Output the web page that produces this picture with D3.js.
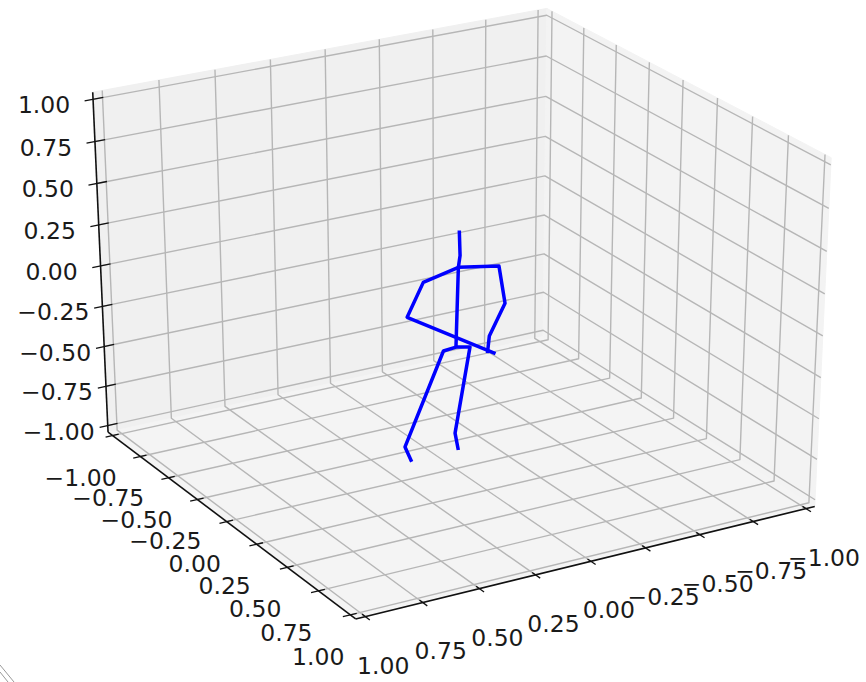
<!DOCTYPE html>
<html><head><meta charset="utf-8">
<script src="https://cdn.jsdelivr.net/npm/d3@7"></script>
<style>
  body { margin: 0; background: #fff; }
  text { font-family: "DejaVu Sans", sans-serif; }
</style>
</head><body><div id="root"></div><script>
const width = 866, height = 682;

// axis ticks (same for x, y, z)
const tickValues = [-1, -0.75, -0.5, -0.25, 0, 0.25, 0.5, 0.75, 1];

// pose joints, 3D (x, y, z)
const jointNames = ["head", "nose", "thorax", "r_shoulder", "r_elbow", "r_wrist", "r_hand",
                    "l_shoulder", "l_elbow", "l_wrist", "pelvis", "l_hip", "l_knee", "l_foot",
                    "r_hip", "r_knee", "r_foot"];
const jointX = [-0.013, -0.016, -0.010, -0.148, -0.169, -0.116, -0.110, 0.109, 0.165, -0.138, -0.002, 0.041, 0.175, 0.152, -0.050, 0.001, -0.010];
const jointY = [0.008, 0.009, 0.006, 0.086, 0.099, 0.068, 0.064, -0.064, -0.096, 0.080, 0.001, -0.024, -0.102, -0.089, 0.029, -0.001, 0.006];
const jointZ = [0.419, 0.269, 0.199, 0.206, -0.017, -0.217, -0.322, 0.108, -0.103, -0.325, -0.285, -0.309, -0.905, -0.998, -0.285, -0.818, -0.924];

// bones drawn as chains of joint indices
const chains = [[0, 1, 2, 10], [2, 3, 4, 5, 6], [2, 7, 8, 9], [10, 11, 12, 13], [10, 14, 15, 16]];

// view settings (matplotlib-like perspective camera)
const view = {elev: 26.9, azim: 59.8, dist: 10.6, zk: 1.2, sx: 4897.8, sy: 3976.5, cx: 455.4, cy: 300.3};
const lim = 1 + 2 / 48; // axis limits incl. margin

function dot(a, b) { return a[0]*b[0] + a[1]*b[1] + a[2]*b[2]; }

const e = view.elev * Math.PI / 180, a = view.azim * Math.PI / 180;
const u = [-Math.sin(a), Math.cos(a), 0];
const w = [Math.cos(e)*Math.cos(a), Math.cos(e)*Math.sin(a), Math.sin(e)];
const v = [w[1]*u[2]-w[2]*u[1], w[2]*u[0]-w[0]*u[2], w[0]*u[1]-w[1]*u[0]];

// world -> screen
function proj(p) {
    const q = [p[0]/(2*lim)*8/7, p[1]/(2*lim)*8/7, p[2]/(2*lim)*6/7*view.zk];
    const d = view.dist - dot(w, q);
    return [view.cx + view.sx*dot(u, q)/d, view.cy - view.sy*dot(v, q)/d];
}

const svg = d3.select("#root").append("svg")
    .attr("width", width)
    .attr("height", height);

const line = d3.line();
const fmt = d3.format(".2f");

// panes
const panes = [
    {c: "#f0f0f0", pts: [[lim,-lim,-lim], [-lim,-lim,-lim], [-lim,-lim,lim], [lim,-lim,lim]]},
    {c: "#f3f3f3", pts: [[-lim,-lim,-lim], [-lim,lim,-lim], [-lim,lim,lim], [-lim,-lim,lim]]},
    {c: "#f4f4f4", pts: [[lim,-lim,-lim], [lim,lim,-lim], [-lim,lim,-lim], [-lim,-lim,-lim]]}
];
svg.selectAll(".pane").data(panes).join("path")
    .attr("class", "pane")
    .attr("d", d => line(d.pts.map(proj)) + "Z")
    .attr("fill", d => d.c)
    .attr("stroke", d => d.c);

// grid lines (floor + wall as one polyline)
const grid = [];
tickValues.forEach(t => {
    grid.push([[t, lim, -lim], [t, -lim, -lim], [t, -lim, lim]]);
    grid.push([[lim, t, -lim], [-lim, t, -lim], [-lim, t, lim]]);
    grid.push([[lim, -lim, t], [-lim, -lim, t], [-lim, lim, t]]);
});
svg.selectAll(".grid").data(grid).join("path")
    .attr("class", "grid")
    .attr("d", d => line(d.map(proj)))
    .attr("fill", "none")
    .attr("stroke", "#b6b6b6")
    .attr("stroke-width", 1.4)
    .attr("stroke-linejoin", "round");

// axis lines
const axisLines = [
    [[lim, -lim, -lim], [lim, -lim, lim]],   // z
    [[lim, -lim, -lim], [lim, lim, -lim]],   // y
    [[lim, lim, -lim], [-lim, lim, -lim]]    // x
];
svg.selectAll(".axline").data(axisLines).join("path")
    .attr("class", "axline")
    .attr("d", d => line(d.map(proj)))
    .attr("stroke", "#111")
    .attr("stroke-width", 1.6);

// ticks: point on edge, tick direction, outward/inward length, label pixel offset
const axesDef = [
    {pos: t => [lim, -lim, t], dir: [1, 0, 0], out: 0.037, inn: 0.045, off: [-49, 6]},
    {pos: t => [lim, t, -lim], dir: [1, 0, 0], out: 0.032, inn: 0.028, off: [-32, 42]},
    {pos: t => [t, lim, -lim], dir: [0, 1, 0], out: 0.035, inn: 0.025, off: [18, 49]}
];

axesDef.forEach((ad, k) => {
    const g = svg.append("g").attr("class", "axis-" + k);
    g.selectAll("line").data(tickValues).join("line")
        .each(function(t) {
            const p = ad.pos(t);
            const p1 = proj(p.map((c, i) => c + ad.dir[i]*ad.out));
            const p2 = proj(p.map((c, i) => c - ad.dir[i]*ad.inn));
            d3.select(this).attr("x1", p1[0]).attr("y1", p1[1]).attr("x2", p2[0]).attr("y2", p2[1]);
        })
        .attr("stroke", "#111")
        .attr("stroke-width", 1.3);
    g.selectAll("text").data(tickValues).join("text")
        .attr("x", t => proj(ad.pos(t))[0] + ad.off[0])
        .attr("y", t => proj(ad.pos(t))[1] + ad.off[1])
        .attr("text-anchor", "middle")
        .attr("dominant-baseline", "central")
        .style("font-size", "23.5px")
        .attr("fill", "#1a1a1a")
        .text(t => fmt(t));
});

// skeleton
svg.selectAll(".bone").data(chains).join("path")
    .attr("class", "bone")
    .attr("d", c => line(c.map(i => proj([jointX[i], jointY[i], jointZ[i]]))))
    .attr("fill", "none")
    .attr("stroke", "#0000ff")
    .attr("stroke-width", 3.5)
    .attr("stroke-linejoin", "round");

// little corner mark at bottom left
svg.append("path")
    .attr("d", "M0,665L14,682M0,672L8,682")
    .attr("stroke", "#999")
    .attr("stroke-width", 1)
    .attr("fill", "none");
</script></body></html>
